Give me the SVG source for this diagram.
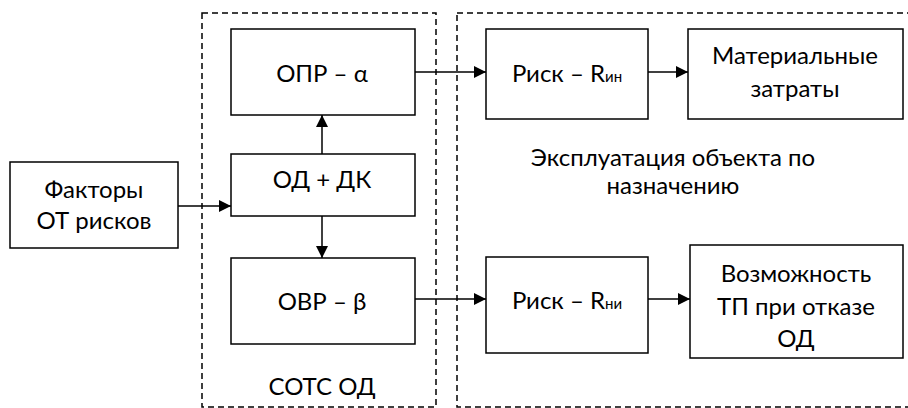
<svg xmlns="http://www.w3.org/2000/svg" width="908" height="408" viewBox="0 0 908 408">
  <defs>
    <marker id="arrow" viewBox="0 0 12 12" refX="12" refY="6" markerWidth="12" markerHeight="12" markerUnits="userSpaceOnUse" orient="auto">
      <path d="M0,0 L12,6 L0,12 Z" fill="#000"/>
    </marker>
    <style>
      .box { fill: #fff; stroke: #000; stroke-width: 1.5; }
      .frame { fill: none; stroke: #000; stroke-width: 1.5; stroke-dasharray: 6 4; }
      .link { fill: none; stroke: #000; stroke-width: 1.5; marker-end: url(#arrow); }
      text { font-family: Lato, "Open Sans", "Liberation Sans", sans-serif; font-size: 24px; fill: #000; text-anchor: middle; }
      .sub { font-size: 15px; }
    </style>
  </defs>

  <rect width="908" height="408" fill="#fff"/>

  <!-- dashed group frames -->
  <g id="frame-sots">
    <rect class="frame" x="202" y="13" width="234" height="394"/>
    <text x="322" y="395">СОТС ОД</text>
  </g>
  <g id="frame-operation">
    <rect class="frame" x="457" y="13" width="460" height="394"/>
    <text x="673" y="166">Эксплуатация объекта по</text>
    <text x="673" y="194">назначению</text>
  </g>

  <!-- connectors -->
  <g id="connectors">
    <line class="link" x1="178" y1="206" x2="231" y2="206"/>
    <line class="link" x1="322" y1="154" x2="322" y2="115"/>
    <line class="link" x1="322" y1="216" x2="322" y2="258"/>
    <line class="link" x1="415" y1="72" x2="486" y2="72"/>
    <line class="link" x1="648" y1="72" x2="688" y2="72"/>
    <line class="link" x1="415" y1="299" x2="486" y2="299"/>
    <line class="link" x1="648" y1="299" x2="690" y2="299"/>
  </g>

  <!-- nodes -->
  <g id="factors">
    <rect class="box" x="10" y="162" width="168" height="86"/>
    <text x="94" y="198">Факторы</text>
    <text x="94" y="229">ОТ рисков</text>
  </g>
  <g id="opr">
    <rect class="box" x="231" y="29" width="184" height="86"/>
    <text x="322" y="82">ОПР – α</text>
  </g>
  <g id="od-dk">
    <rect class="box" x="231" y="154" width="184" height="62"/>
    <text x="322" y="188">ОД + ДК</text>
  </g>
  <g id="ovr">
    <rect class="box" x="231" y="258" width="184" height="86"/>
    <text x="322" y="310">ОВР – β</text>
  </g>
  <g id="risk-in">
    <rect class="box" x="486" y="29" width="162" height="90"/>
    <text x="567" y="82">Риск – R<tspan class="sub">ин</tspan></text>
  </g>
  <g id="material">
    <rect class="box" x="688" y="29" width="215" height="90"/>
    <text x="795" y="64">Материальные</text>
    <text x="795" y="97">затраты</text>
  </g>
  <g id="risk-ni">
    <rect class="box" x="486" y="257" width="162" height="96"/>
    <text x="567" y="309">Риск – R<tspan class="sub">ни</tspan></text>
  </g>
  <g id="possibility">
    <rect class="box" x="690" y="245" width="213" height="113"/>
    <text x="796" y="282">Возможность</text>
    <text x="796" y="315">ТП при отказе</text>
    <text x="796" y="347">ОД</text>
  </g>
</svg>
